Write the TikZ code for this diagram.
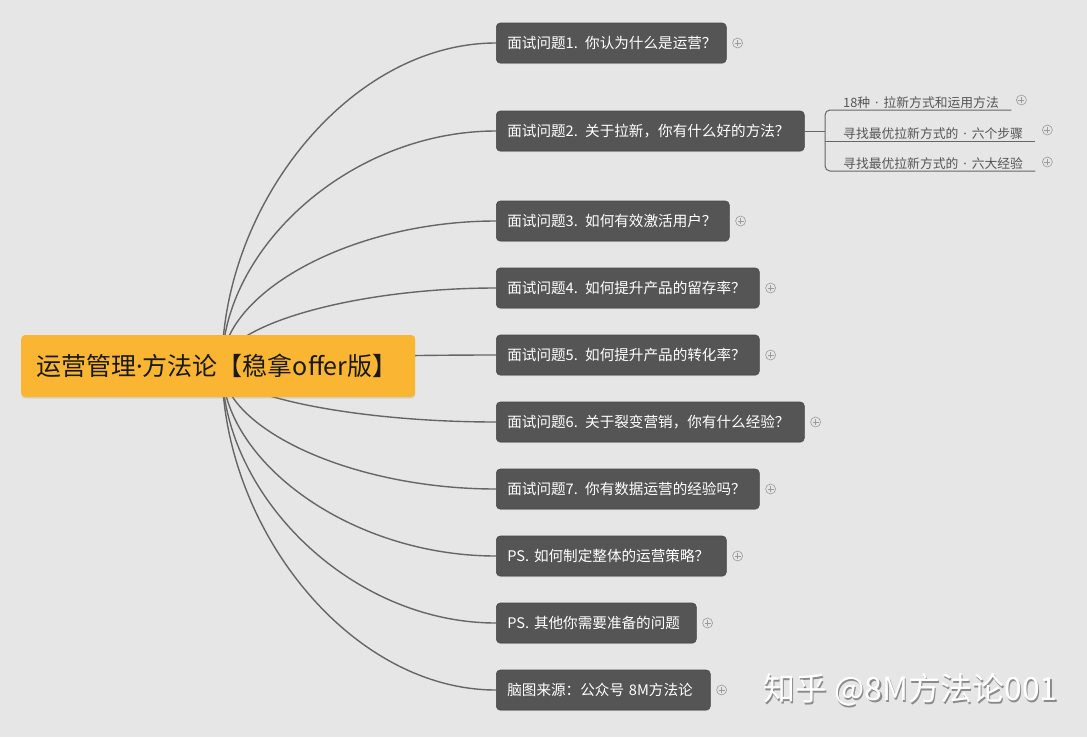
\documentclass[tikz,border=0pt]{standalone}
\usepackage{fontspec}
\setmainfont{Noto Sans CJK SC}
\newfontfamily\latnfont{Noto Sans}
\newcommand{\mdot}{{\latnfont ·}}
\newcommand{\sdot}{\hspace{5pt}{\latnfont ·}\hspace{5pt}}
\usetikzlibrary{shadows,backgrounds}
\definecolor{bg}{HTML}{E6E6E6}
\definecolor{nodefill}{HTML}{555555}
\definecolor{nodeedge}{HTML}{474747}
\definecolor{rootfill}{HTML}{FAB632}
\definecolor{edgecol}{HTML}{666666}
\definecolor{subtext}{HTML}{555555}
\definecolor{pluscol}{HTML}{9A9A9A}
\definecolor{wmshade}{HTML}{8A8A8A}
\begin{document}
\begin{tikzpicture}[x=1pt,y=-1pt,
  conn/.style={draw=edgecol, line width=1.4pt},
  subconn/.style={draw=edgecol, line width=1pt},
  rootbox/.style={fill=rootfill, rounded corners=4pt, minimum height=62pt,
    inner xsep=15pt, inner ysep=0pt, anchor=west, align=left, text=black!90,
    font=\fontsize{25}{29}\selectfont,
    drop shadow={opacity=0.18, shadow xshift=0pt, shadow yshift=-1.5pt}},
  qbox/.style={fill=nodefill, draw=nodeedge, line width=0.6pt, rounded corners=4pt,
    minimum height=40pt, inner xsep=11pt, inner ysep=0pt, anchor=west, align=left,
    text=white, font=\fontsize{14.6}{16}\selectfont,
    drop shadow={opacity=0.2, shadow xshift=0pt, shadow yshift=-1.2pt}},
  subitem/.style={anchor=south west, inner xsep=0pt, inner ysep=1.5pt, align=left,
    text=subtext, font=\fontsize{12.8}{14}\selectfont},
  plusicon/.style={circle, draw=pluscol, line width=0.6pt, minimum size=10pt, inner sep=0pt,
    path picture={\draw[pluscol, line width=0.6pt]
      ([xshift=-3pt]path picture bounding box.center) -- ([xshift=3pt]path picture bounding box.center)
      ([yshift=-3pt]path picture bounding box.center) -- ([yshift=3pt]path picture bounding box.center);}},
  wmtext/.style={anchor=west, inner sep=0pt, font=\fontsize{32}{35}\selectfont},
]
\useasboundingbox (0,0) rectangle (1087,737);

% root
\node[rootbox, text width=364pt] (root) at (21,366) {\mbox{运营管理\mdot 方法论【稳拿offer版】}};
\coordinate (hub) at (222,366);

% branches
\node[qbox, text width=208pt] (b1) at (496,43) {\mbox{面试问题1. 你认为什么是运营？}};
\node[qbox, text width=286pt] (b2) at (496,131) {\mbox{面试问题2. 关于拉新，你有什么好的方法？}};
\node[qbox, text width=211pt] (b3) at (496,221) {\mbox{面试问题3. 如何有效激活用户？}};
\node[qbox, text width=241pt] (b4) at (496,288) {\mbox{面试问题4. 如何提升产品的留存率？}};
\node[qbox, text width=241pt] (b5) at (496,355) {\mbox{面试问题5. 如何提升产品的转化率？}};
\node[qbox, text width=286pt] (b6) at (496,422) {\mbox{面试问题6. 关于裂变营销，你有什么经验？}};
\node[qbox, text width=241pt] (b7) at (496,489) {\mbox{面试问题7. 你有数据运营的经验吗？}};
\node[qbox, text width=208pt] (b8) at (496,556) {\mbox{PS. 如何制定整体的运营策略？}};
\node[qbox, text width=178pt] (b9) at (496,623) {\mbox{PS. 其他你需要准备的问题}};
\node[qbox, text width=192pt] (b10) at (496,690) {\mbox{脑图来源：公众号 8M方法论}};

% sub items of b2
\node[subitem, text width=186pt] (s1) at (825,110) {\mbox{\hspace*{18pt}18种\sdot 拉新方式和运用方法}};
\node[subitem, text width=210pt] (s2) at (825,141) {\mbox{\hspace*{18pt}寻找最优拉新方式的\sdot 六个步骤}};
\node[subitem, text width=210pt] (s3) at (825,171) {\mbox{\hspace*{18pt}寻找最优拉新方式的\sdot 六大经验}};

% plus icons
\node[plusicon] (p1) at ([xshift=11pt]b1.east) {};
\node[plusicon] (p3) at ([xshift=11pt]b3.east) {};
\node[plusicon] (p4) at ([xshift=11pt]b4.east) {};
\node[plusicon] (p5) at ([xshift=11pt]b5.east) {};
\node[plusicon] (p6) at ([xshift=11pt]b6.east) {};
\node[plusicon] (p7) at ([xshift=11pt]b7.east) {};
\node[plusicon] (p8) at ([xshift=11pt]b8.east) {};
\node[plusicon] (p9) at ([xshift=11pt]b9.east) {};
\node[plusicon] (p10) at ([xshift=11pt]b10.east) {};
\node[plusicon] (ps1) at ([xshift=10pt,yshift=10pt]s1.south east) {};
\node[plusicon] (ps2) at ([xshift=12pt,yshift=11pt]s2.south east) {};
\node[plusicon] (ps3) at ([xshift=12pt,yshift=9pt]s3.south east) {};

% watermark
\node[wmtext, text=wmshade] (wmshadow) at (764.5,691.5) {知乎 @8M方法论001};
\node[wmtext, text=white] (wm) at (763,690) {知乎 @8M方法论001};

\begin{pgfonlayer}{background}
\fill[bg] (0,0) rectangle (1087,737);
\draw[conn] (hub) .. controls (222,204.5) and (350,43) .. (b1.west);
\draw[conn] (hub) .. controls (222,248.5) and (350,131) .. (b2.west);
\draw[conn] (hub) .. controls (222,293.5) and (350,221) .. (b3.west);
\draw[conn] (hub) .. controls (222,327) and (350,288) .. (b4.west);
\draw[conn] (hub) .. controls (222,360.5) and (350,355) .. (b5.west);
\draw[conn] (hub) .. controls (222,394) and (350,422) .. (b6.west);
\draw[conn] (hub) .. controls (222,427.5) and (350,489) .. (b7.west);
\draw[conn] (hub) .. controls (222,461) and (350,556) .. (b8.west);
\draw[conn] (hub) .. controls (222,494.5) and (350,623) .. (b9.west);
\draw[conn] (hub) .. controls (222,528) and (350,690) .. (b10.west);
\draw[subconn] (b2.east) -- (b2.east -| s1.south west);
\draw[subconn, rounded corners=5pt] (s1.south east) -- (s1.south west) -- (s3.south west) -- (s3.south east);
\draw[subconn] (s2.south west) -- (s2.south east);
\end{pgfonlayer}
\end{tikzpicture}
\end{document}
